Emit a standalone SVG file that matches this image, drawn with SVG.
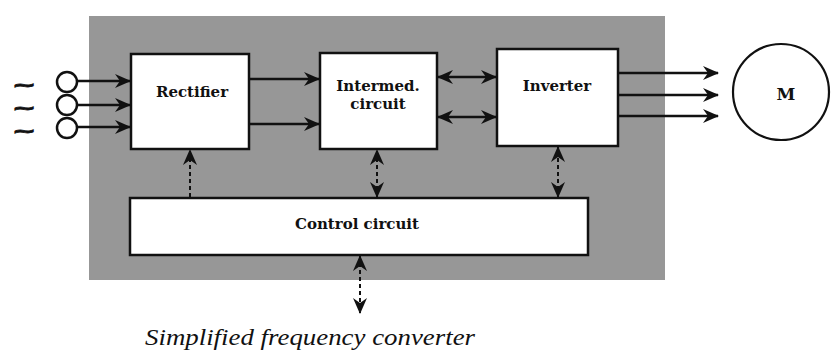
<svg xmlns="http://www.w3.org/2000/svg" width="837" height="357" viewBox="0 0 837 357">
<style>
.box{fill:#fff;stroke:#111;stroke-width:2.5}
.ln{stroke:#111;stroke-width:2.5;fill:none}
.dl{stroke:#111;stroke-width:2;fill:none;stroke-dasharray:4 3}
.lbl{font-family:"DejaVu Serif","Liberation Serif",serif;font-weight:bold;font-size:15px;fill:#111;text-anchor:middle}
.cap{font-family:"Liberation Serif",serif;font-style:italic;font-size:24px;fill:#111}
.tl{font-family:"DejaVu Sans",sans-serif;font-size:18px;font-weight:bold;fill:#111;stroke:#111;stroke-width:0.8}
</style>
<defs>
<marker id="ah" viewBox="0 0 16 14" refX="15" refY="7" markerWidth="16" markerHeight="14" markerUnits="userSpaceOnUse" orient="auto-start-reverse">
<path d="M0,0 L16,7 L0,14 L5,7 Z" fill="#111"/>
</marker>
</defs>
<rect x="0" y="0" width="837" height="357" fill="#fff"/>
<g id="frame">
<rect x="89" y="16" width="576" height="264" fill="#979797"/>
</g>
<g id="sources">
<circle cx="67" cy="82" r="10" fill="none" stroke="#111" stroke-width="2.5"/>
<circle cx="67" cy="105" r="10" fill="none" stroke="#111" stroke-width="2.5"/>
<circle cx="67" cy="128" r="10" fill="none" stroke="#111" stroke-width="2.5"/>
<text class="tl" transform="translate(12,0) scale(1.6,1)"><tspan x="0" y="91">~</tspan><tspan x="0" y="114">~</tspan><tspan x="0" y="137">~</tspan></text>
</g>
<g id="rectifier">
<rect class="box" x="131" y="54" width="118" height="95"/>
<text class="lbl" x="192" y="97">Rectifier</text>
</g>
<g id="intermed">
<rect class="box" x="320" y="53" width="117" height="96"/>
<text class="lbl"><tspan x="378" y="91">Intermed.</tspan><tspan x="378" y="109">circuit</tspan></text>
</g>
<g id="inverter">
<rect class="box" x="497" y="49" width="121" height="97"/>
<text class="lbl" x="557" y="91">Inverter</text>
</g>
<g id="control">
<rect class="box" x="130" y="198" width="458" height="57"/>
<text class="lbl" x="357" y="229">Control circuit</text>
</g>
<g id="motor">
<circle cx="781" cy="92" r="48" fill="#fff" stroke="#111" stroke-width="2.2"/>
<text class="lbl" x="786" y="100" style="font-size:17px">M</text>
</g>
<g id="connectors">
<line class="ln" x1="77" y1="81" x2="130" y2="81" marker-end="url(#ah)"/>
<line class="ln" x1="77" y1="105" x2="130" y2="105" marker-end="url(#ah)"/>
<line class="ln" x1="77" y1="127" x2="130" y2="127" marker-end="url(#ah)"/>
<line class="ln" x1="250" y1="79" x2="319" y2="79" marker-end="url(#ah)"/>
<line class="ln" x1="250" y1="124" x2="319" y2="124" marker-end="url(#ah)"/>
<line class="ln" x1="438" y1="77" x2="496" y2="77" marker-start="url(#ah)" marker-end="url(#ah)"/>
<line class="ln" x1="438" y1="117" x2="496" y2="117" marker-start="url(#ah)" marker-end="url(#ah)"/>
<line class="ln" x1="619" y1="73" x2="718" y2="73" marker-end="url(#ah)"/>
<line class="ln" x1="619" y1="95" x2="718" y2="95" marker-end="url(#ah)"/>
<line class="ln" x1="619" y1="116" x2="718" y2="116" marker-end="url(#ah)"/>
<line class="dl" x1="190" y1="197" x2="190" y2="150" marker-end="url(#ah)"/>
<line class="dl" x1="377" y1="197" x2="377" y2="150" marker-start="url(#ah)" marker-end="url(#ah)"/>
<line class="dl" x1="558" y1="197" x2="558" y2="147" marker-start="url(#ah)" marker-end="url(#ah)"/>
<line class="dl" x1="360" y1="256" x2="360" y2="313" marker-start="url(#ah)" marker-end="url(#ah)"/>
</g>
<text class="cap" x="145" y="345" textLength="330" lengthAdjust="spacingAndGlyphs">Simplified frequency converter</text>
</svg>
